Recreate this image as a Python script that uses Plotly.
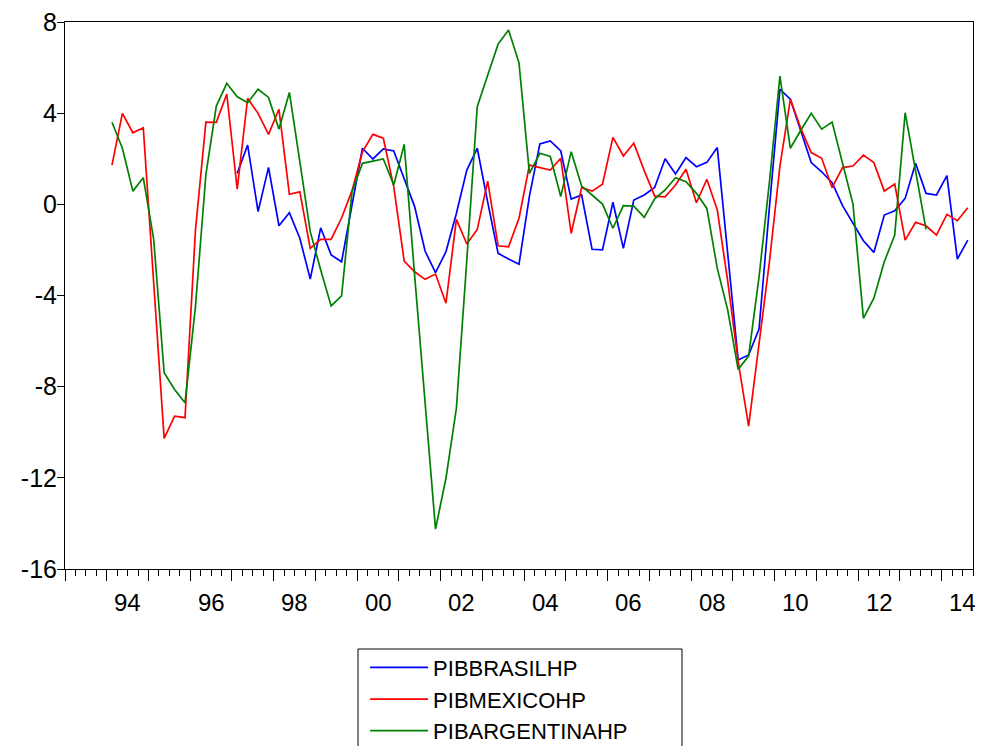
import plotly.graph_objects as go

# HP-filtered GDP cycles, quarterly
mexico = [1.72, 3.99, 3.14, 3.36, -3.45, -10.27, -9.29, -9.36, -1.13, 3.61, 3.6,
          4.84, 0.67, 4.65, 3.99, 3.07, 4.17, 0.44, 0.55, -1.93, -1.54, -1.54,
          -0.6, 0.6, 2.3, 3.07, 2.9, 0.77, -2.49, -2.96, -3.29, -3.06, -4.34,
          -0.66, -1.74, -1.1, 1.02, -1.82, -1.86, -0.61, 1.72, 1.61, 1.5,
          2.02, -1.27, 0.73, 0.58, 0.88, 2.94, 2.12, 2.68, 1.48, 0.36, 0.33,
          0.85, 1.54, 0.07, 1.1, -0.25, -3.38, -6.9, -9.73, -6.0, -2.5, 1.68,
          4.61, 3.33, 2.27, 2.02, 0.73, 1.61, 1.68, 2.16, 1.83, 0.58, 0.89,
          -1.57, -0.79, -0.94, -1.35, -0.44, -0.72, -0.15]   # 1994Q1 - 2014Q3

argentina = [3.6, 2.46, 0.58, 1.17, -1.54, -7.39, -8.12, -8.71, -4.49, 1.32, 4.31,
             5.31, 4.72, 4.46, 5.05, 4.69, 3.3, 4.91, 1.87, -1.2, -2.88, -4.46,
             -4.02, 0.55, 1.8, 1.91, 1.99, 0.85, 2.63, -3.12, -8.67, -14.25, -12.02,
             -8.95, -2.44, 4.28, 5.66, 7.03, 7.65, 6.21, 1.36, 2.24, 2.1,
             0.34, 2.31, 0.8, 0.41, 0.01, -1.05, -0.06, -0.08, -0.57, 0.24, 0.63,
             1.17, 0.99, 0.48, -0.18, -2.81, -4.64, -7.24, -6.66, -3.18, 1.0, 5.63,
             2.46, 3.25, 3.99, 3.3, 3.61, 1.8, 0.01, -5.0, -4.12, -2.52, -1.35,
             4.02, 1.46, -1.1]   # 1994Q1 - 2013Q3

brasil = [1.36, 2.6, -0.32, 1.62, -0.94, -0.37, -1.49, -3.28, -1.03, -2.22,
          -2.52, 0.04, 2.46, 1.99, 2.43, 2.34, 1.12, -0.1, -2.05, -3.0, -2.08,
          -0.4, 1.5, 2.46, 0.1, -2.15, -2.4, -2.63, 0.36, 2.65, 2.78,
          2.34, 0.23, 0.41, -1.97, -2.0, 0.09, -1.93, 0.19, 0.41, 0.74, 2.0,
          1.33, 2.05, 1.65, 1.84, 2.49, -2.2, -6.83, -6.61, -5.47, -0.1, 5.05,
          4.61, 3.22, 1.83, 1.43, 0.95, -0.06, -0.83, -1.6, -2.11, -0.47, -0.28,
          0.26, 1.8, 0.48, 0.41, 1.26, -2.4, -1.57]   # 1997Q1 - 2014Q3

year_labels = ["94", "96", "98", "00", "02", "04", "06", "08", "10", "12", "14"]
label_years = [1994, 1996, 1998, 2000, 2002, 2004, 2006, 2008, 2010, 2012, 2014]
year_ticks = list(range(1993, 2015))
y_ticks = [-16, -12, -8, -4, 0, 4, 8]
y_tick_labels = ["-16", "-12", "-8", "-4", "0", "4", "8"]


def qpos(start_year, start_q, n):
    # each observation plotted at the middle of its quarter
    return [start_year + (start_q - 1 + k) / 4 + 0.125 for k in range(n)]


FONT = "Liberation Sans, Arial, sans-serif"

fig = go.Figure()
fig.add_trace(go.Scatter(x=qpos(1997, 1, len(brasil)), y=brasil, mode="lines",
                         name="PIBBRASILHP", line=dict(color="#0000FF", width=1.7)))
fig.add_trace(go.Scatter(x=qpos(1994, 1, len(mexico)), y=mexico, mode="lines",
                         name="PIBMEXICOHP", line=dict(color="#FF0000", width=1.7)))
fig.add_trace(go.Scatter(x=qpos(1994, 1, len(argentina)), y=argentina, mode="lines",
                         name="PIBARGENTINAHP", line=dict(color="#008000", width=1.7)))

for lab, yr in zip(year_labels, label_years):
    fig.add_annotation(x=yr + 0.5, y=-0.062, xref="x", yref="paper", text=lab,
                       showarrow=False, yanchor="middle", xanchor="center",
                       font=dict(size=24, color="black", family=FONT))

# legend frame (open at the bottom edge of the picture, like the reference)
fig.add_shape(type="rect", xref="paper", yref="paper",
              x0=0.3227, x1=0.6795, y0=-0.1463, y1=-0.34,
              line=dict(color="black", width=1), fillcolor="rgba(0,0,0,0)")

fig.update_layout(
    width=981, height=746,
    margin=dict(l=65, r=8, t=22, b=177, autoexpand=False),
    paper_bgcolor="white", plot_bgcolor="white",
    font=dict(family=FONT, size=24, color="black"),
    showlegend=True,
    legend=dict(x=0.3305, xanchor="left", y=-0.142, yanchor="top",
                borderwidth=0, bgcolor="rgba(0,0,0,0)",
                font=dict(size=22, family=FONT), tracegroupgap=0,
                itemwidth=58),
    xaxis=dict(range=[1993, 2014.75], showgrid=False, zeroline=False,
               showline=True, linecolor="black", linewidth=1, mirror=True,
               tickmode="array", tickvals=year_ticks, ticks="outside",
               ticklen=11, tickcolor="black", showticklabels=False,
               automargin=False,
               minor=dict(dtick=0.25, tick0=1993, ticks="outside", ticklen=6,
                          tickcolor="black", showgrid=False)),
    yaxis=dict(range=[-16, 8], showgrid=False, zeroline=False,
               showline=True, linecolor="black", linewidth=1, mirror=True,
               tickmode="array", tickvals=y_ticks, ticktext=y_tick_labels,
               ticks="outside", ticklen=7, ticklabelstandoff=-5,
               tickcolor="black", tickfont=dict(size=25, family=FONT),
               automargin=False),
)

fig.write_html("out.html", config={"displayModeBar": False},
               post_script="document.body.style.margin='0';document.body.style.overflow='hidden';")
